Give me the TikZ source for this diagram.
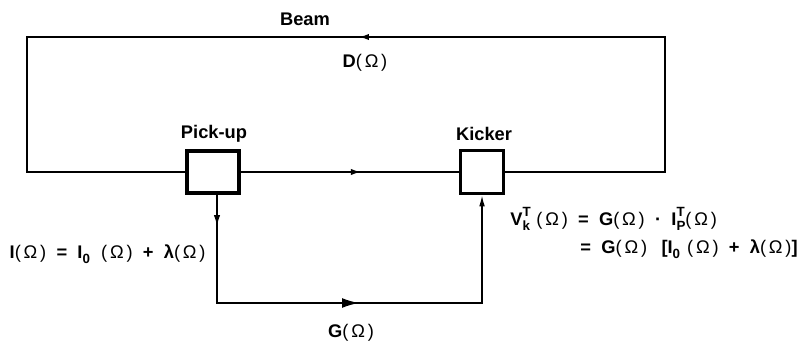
\documentclass[tikz,border=0pt]{standalone}
\usepackage{fontspec}
\setmainfont{Liberation Sans}
\usetikzlibrary{arrows.meta,decorations.markings}

% raised and lowered index on the same letter
\newcommand{\supsub}[2]{\raisebox{-0.55ex}{\fontsize{9.5}{8.5}\selectfont\shortstack[l]{#1\\#2}}}
\newcommand{\lowidx}[1]{\raisebox{-0.55ex}{\fontsize{9.5}{9}\selectfont #1}}
% frequency argument
\newcommand{\om}{{\mdseries(\kern2ptΩ\kern2pt)}}
% wider word spaces in the formulas
\newcommand{\widesp}{\spaceskip=7.3pt plus 1pt\relax}

\begin{document}
\begin{tikzpicture}[x=0.025cm,y=-0.025cm,line width=1.1pt,>=Latex,
  font=\fontsize{13}{15}\selectfont\bfseries,
  unit/.style={draw,line width=2.3pt,inner sep=0pt},
  eqn/.style={execute at begin node=\widesp},
  midarrow/.style={postaction={decorate,decoration={markings,
      mark=at position #1 with {\arrow{Latex[length=7pt,width=4.5pt]}}}}}]
\useasboundingbox (0,0) rectangle (800,341);
% ---------- pick-up and kicker ----------
\node[unit,minimum width=1.3cm,minimum height=1.05cm] (pickup) at (213,172) {};
\node[unit,minimum size=1.07cm] (kicker) at (482,172) {};
\node[anchor=base] (pickuplbl) at (214,138) {Pick-up};
\node[anchor=base] (kickerlbl) at (484,140) {Kicker};
% ---------- beam ring ----------
\coordinate (ringNW) at (27,37);
\coordinate (ringNE) at (665,37);
\draw[midarrow=0.49] (kicker.east) -| (ringNE) -- (ringNW) |- (pickup.west);
\draw[midarrow=0.55] (pickup.east) -- (kicker.west);
\node[anchor=base] (beamlbl) at (305,26) {Beam};
\node[anchor=base] (dlbl) at (365,68) {D\om};
% ---------- feedback path ----------
\coordinate (sigL) at (217,303);
\draw[->,>={Latex[length=8pt,width=4pt]},postaction={decorate,decoration={markings,
    mark=at position 0.066 with {\arrow{Latex[length=8pt,width=4.5pt]}},
    mark=at position 0.52 with {\arrow{Latex[length=12pt,width=7pt]}}}}]
  (pickup.south -| sigL) -- (sigL) -| (kicker.south);
\node[eqn,anchor=base east] (ieq) at (211,258) {I\om{} = I\lowidx{0}\hspace{8pt}\om{} + λ\om};
\node[anchor=base] (glbl) at (351,337) {G\om};
\node[eqn,anchor=base west] (vkeq) at (505,225) {V\supsub{T}{k}\kern4pt\om{} = G\om{} · I\supsub{T}{P}\om};
\node[eqn,anchor=base west] (vkeqb) at (575,253) {= G\om{}\hspace{3pt} [I\lowidx{0}\hspace{5pt}\om{} + λ\om]};
\end{tikzpicture}
\end{document}
